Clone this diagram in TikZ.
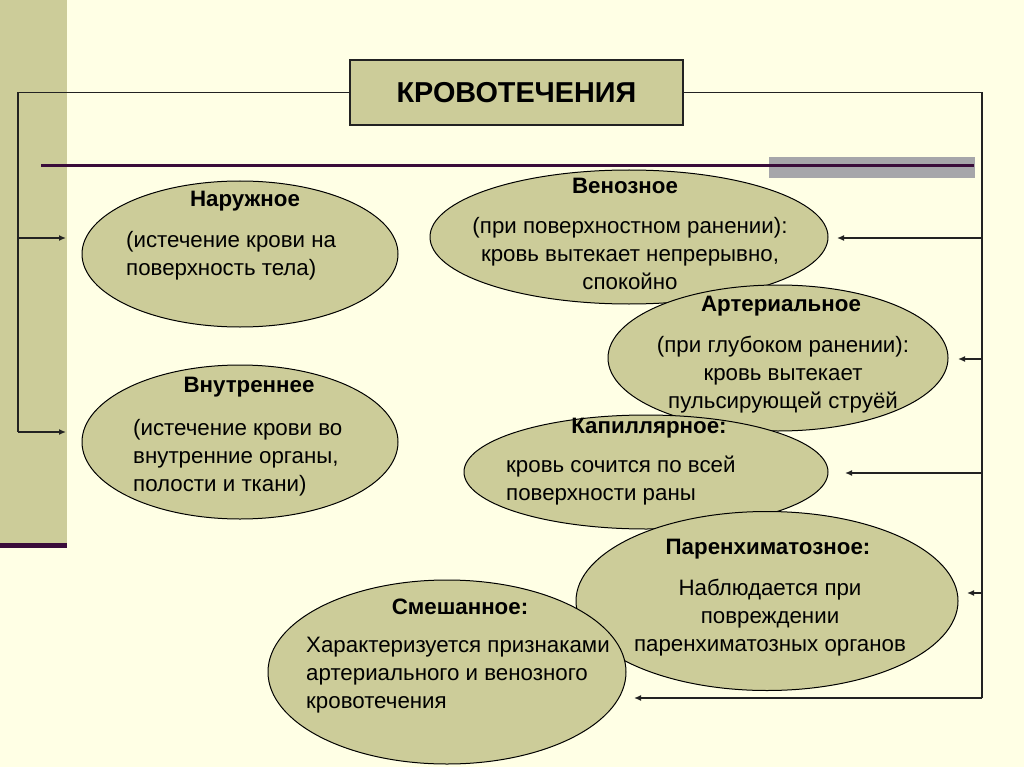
\documentclass[tikz,border=0pt]{standalone}
\usepackage{fontspec}
\setmainfont{Liberation Sans}
\usepackage{tikz}
\usetikzlibrary{shapes.geometric, arrows.meta, positioning}
\definecolor{fonSlaida}{HTML}{FFFFE5}
\definecolor{haki}{HTML}{CCCC99}
\definecolor{bordo}{HTML}{3A0C3A}
\definecolor{seryBrusok}{HTML}{A6A6AA}
\definecolor{liniya}{HTML}{222222}

\begin{document}
\begin{tikzpicture}[x=1pt, y=-1pt,
        vid/.style={ellipse, draw=black, fill=haki, line width=1pt, inner sep=0pt},
        zagolovok/.style={font=\fontsize{22.3}{26}\selectfont\bfseries, inner sep=0pt},
        opisanie/.style={font=\fontsize{22.3}{28}\selectfont, inner sep=0pt},
        strelka/.style={-{Latex[length=7pt, width=6pt]}, liniya, line width=1.3pt},
        svyaz/.style={liniya, line width=1.3pt}
    ]
        % fon slaida
        \fill[fonSlaida] (0,0) rectangle (1024,767);
        \useasboundingbox (0,0) rectangle (1024,767);
        \fill[haki] (0,0) rectangle (67,543);
        \fill[bordo] (0,543) rectangle (67,548);
        \fill[seryBrusok] (769,157) rectangle (975,178);
        \draw[bordo, line width=3pt] (41,165.5) -- (974,165.5);

        % glavnyj blok
        \node[draw=liniya, fill=haki, line width=1.3pt, minimum width=333pt, minimum height=65pt,
            font=\fontsize{28.8}{34}\selectfont\bfseries] (krov) at (516.5,92.5) {КРОВОТЕЧЕНИЯ};

        % vidy krovotechenij
        \node[vid, minimum width=316pt, minimum height=146pt] (naruzh) at (240,254) {};
        \node[zagolovok] (naruzhZ) at (245,201) {Наружное};
        \node[opisanie, align=left, anchor=west] (naruzhT) at (126,256)
            {(истечение крови на\\поверхность тела)};

        \node[vid, minimum width=316pt, minimum height=154pt] (vnutr) at (240,442) {};
        \node[zagolovok] (vnutrZ) at (249,387) {Внутреннее};
        \node[opisanie, align=left, anchor=west] (vnutrT) at (133,458)
            {(истечение крови во\\внутренние органы,\\полости и ткани)};

        \node[vid, minimum width=398pt, minimum height=134pt] (ven) at (629,237) {};
        \node[zagolovok] (venZ) at (625,186) {Венозное};
        \node[opisanie, align=center] (venT) at (630,254)
            {(при поверхностном ранении):\\кровь вытекает непрерывно,\\спокойно};

        \node[vid, minimum width=340pt, minimum height=146pt] (art) at (778,358) {};
        \node[zagolovok] (artZ) at (781,306) {Артериальное};
        \node[opisanie, align=center] (artT) at (783,375)
            {(при глубоком ранении):\\кровь вытекает\\пульсирующей струёй};

        \node[vid, minimum width=364pt, minimum height=114pt] (kap) at (646,472) {};
        \node[zagolovok] (kapZ) at (649,428) {Капиллярное:};
        \node[opisanie, align=left, anchor=west] (kapT) at (506,481)
            {кровь сочится по всей\\поверхности раны};

        \node[vid, minimum width=382pt, minimum height=179pt] (par) at (767,601) {};
        \node[zagolovok] (parZ) at (768,549) {Паренхиматозное:};
        \node[opisanie, align=center] (parT) at (770,618)
            {Наблюдается при\\повреждении\\паренхиматозных органов};

        \node[vid, minimum width=358pt, minimum height=184pt] (smesh) at (447,672) {};
        \node[zagolovok] (smeshZ) at (460,607) {Смешанное:};
        \node[opisanie, align=left, anchor=west] (smeshT) at (306,675)
            {Характеризуется признаками\\артериального и венозного\\кровотечения};

        % svyazi sleva
        \coordinate (levVerh) at (18,92.5);
        \coordinate (levNiz) at (18,432);
        \coordinate (levNaruzh) at (18,238);
        \coordinate (kNaruzh) at (66,238);
        \coordinate (kVnutr) at (66,432);
        \draw[svyaz] (krov.west) -- (levVerh) -- (levNiz);
        \draw[strelka] (levNaruzh) -- (kNaruzh);
        \draw[strelka] (levNiz) -- (kVnutr);

        % svyazi sprava
        \coordinate (pravVerh) at (982,92.5);
        \coordinate (pravNiz) at (982,698);
        \coordinate (pVen) at (982,238);
        \coordinate (pArt) at (982,359);
        \coordinate (pKap) at (982,473);
        \coordinate (pPar) at (982,593);
        \coordinate (kVen) at (837,238);
        \coordinate (kArt) at (958,359);
        \coordinate (kKap) at (845,473);
        \coordinate (kPar) at (967,593);
        \coordinate (kSmesh) at (634,698);
        \draw[svyaz] (krov.east) -- (pravVerh) -- (pravNiz);
        \draw[strelka] (pVen) -- (kVen);
        \draw[strelka] (pArt) -- (kArt);
        \draw[strelka] (pKap) -- (kKap);
        \draw[strelka] (pPar) -- (kPar);
        \draw[strelka] (pravNiz) -- (kSmesh);
    \end{tikzpicture}
\end{document}
